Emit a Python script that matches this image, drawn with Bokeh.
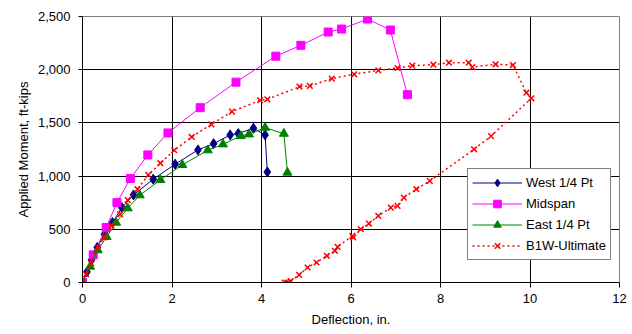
from bokeh.plotting import figure
from bokeh.models import NumeralTickFormatter, FixedTicker, Range1d, Legend
from bokeh.embed import file_html
from bokeh.resources import INLINE

# West 1/4 Pt
west_x = [0, 0.10, 0.20, 0.33, 0.49, 0.67, 0.88, 1.14, 1.58, 2.07, 2.58, 2.93, 3.30, 3.48, 3.82, 4.08, 4.13]
west_y = [0, 100, 210, 330, 454, 563, 704, 823, 971, 1112, 1246, 1305, 1387, 1400, 1450, 1387, 1039]

# Midspan
mid_x = [0, 0.24, 0.53, 0.77, 1.07, 1.46, 1.91, 2.63, 3.43, 4.32, 4.88, 5.49, 5.79, 6.37, 6.88, 7.26]
mid_y = [0, 260, 517, 751, 977, 1199, 1406, 1643, 1883, 2127, 2229, 2354, 2382, 2476, 2373, 1765]

# East 1/4 Pt
east_x = [0, 0.17, 0.34, 0.54, 0.75, 1.01, 1.28, 1.74, 2.23, 2.80, 3.14, 3.54, 3.72, 4.08, 4.50, 4.58]
east_y = [0, 150, 304, 429, 563, 698, 820, 964, 1105, 1243, 1299, 1377, 1393, 1455, 1399, 1033]

# B1W-Ultimate (loading, drop, unloading)
ult_x = [0, 0.08, 0.19, 0.34, 0.49, 0.65, 0.84, 1.01, 1.23, 1.47, 1.74, 2.05, 2.44, 2.88, 3.34,
         3.97, 4.13, 4.85, 5.08, 5.57, 6.07, 6.61, 7.04, 7.37, 7.84, 8.19, 8.63, 8.71, 9.23, 9.62,
         9.92, 10.03, 9.13, 8.75, 7.76, 7.46, 7.18, 7.04, 6.89, 6.61, 6.40, 6.22, 6.05, 6.03,
         5.70, 5.64, 5.46, 5.23, 5.03, 4.84, 4.65, 4.58, 4.52]
ult_y = [0, 79, 182, 329, 423, 532, 642, 774, 877, 1011, 1121, 1243, 1368, 1487, 1606,
         1713, 1722, 1840, 1847, 1916, 1957, 1994, 2016, 2038, 2047, 2066, 2066, 2025, 2051, 2044,
         1784, 1731, 1376, 1252, 955, 877, 798, 720, 704, 626, 554, 501, 423, 438,
         335, 298, 251, 188, 141, 72, 12, 0, 0]

x_ticks = [0, 2, 4, 6, 8, 10, 12]
y_ticks = [0, 500, 1000, 1500, 2000, 2500]

FONT = "Liberation Sans"

p = figure(width=632, height=334, output_backend="svg", toolbar_location=None,
           x_range=Range1d(0, 12), y_range=Range1d(0, 2500),
           min_border_left=82, min_border_right=13, min_border_top=16, min_border_bottom=52)

p.outline_line_color = "#808080"
p.outline_line_width = 1
p.background_fill_color = "white"
p.border_fill_color = "white"

for g in (p.xgrid, p.ygrid):
    g.grid_line_color = "black"
    g.grid_line_width = 1

p.xaxis.ticker = FixedTicker(ticks=x_ticks)
p.yaxis.ticker = FixedTicker(ticks=y_ticks)
p.yaxis.formatter = NumeralTickFormatter(format="0,0")

for ax in (p.xaxis, p.yaxis):
    ax.axis_line_color = "black"
    ax.major_tick_line_color = "black"
    ax.minor_tick_line_color = None
    ax.major_tick_in = 0
    ax.major_label_text_font = FONT
    ax.major_label_text_font_size = "13px"
    ax.major_label_text_color = "black"
    ax.axis_label_text_font = FONT
    ax.axis_label_text_font_size = "13px"
    ax.axis_label_text_font_style = "normal"
    ax.axis_label_text_color = "black"

p.xaxis.major_tick_out = 5
p.xaxis.major_label_standoff = 6
p.xaxis.axis_label = "Deflection, in."
p.xaxis.axis_label_standoff = 6

p.yaxis.major_tick_out = 4
p.yaxis.major_label_standoff = 8
p.yaxis.axis_label = "Applied Moment, ft-kips"
p.yaxis.axis_label_standoff = 4

r_w1 = p.line(west_x, west_y, line_color="#000080", line_width=1)
r_w2 = p.scatter(west_x, west_y, marker="diamond", size=10, fill_color="#000080", line_color="#000080")

r_m1 = p.line(mid_x, mid_y, line_color="#FF00FF", line_width=1)
r_m2 = p.scatter(mid_x, mid_y, marker="square", size=8, fill_color="#FF00FF", line_color="#FF00FF")

r_e1 = p.line(east_x, east_y, line_color="#008000", line_width=1)
r_e2 = p.scatter(east_x, east_y, marker="triangle", size=9, fill_color="#008000", line_color="#008000")

r_u1 = p.line(ult_x, ult_y, line_color="#FF0000", line_width=1.5, line_dash="2 3")
r_u2 = p.scatter(ult_x, ult_y, marker="x", size=8, line_color="#FF0000", line_width=1.5)

legend = Legend(items=[
    ("West 1/4 Pt", [r_w1, r_w2]),
    ("Midspan", [r_m1, r_m2]),
    ("East 1/4 Pt", [r_e1, r_e2]),
    ("B1W-Ultimate", [r_u1, r_u2]),
], location=(385, 22))
legend.label_text_font = FONT
legend.label_text_font_size = "13px"
legend.label_text_color = "black"
legend.glyph_width = 50
legend.glyph_height = 19
legend.label_height = 19
legend.spacing = 2
legend.padding = 4
legend.margin = 0
legend.label_standoff = 4
legend.border_line_color = "black"
legend.border_line_width = 1
legend.background_fill_color = "white"
legend.background_fill_alpha = 1
p.add_layout(legend, "center")

open("out.html", "w").write(file_html(p, INLINE))
